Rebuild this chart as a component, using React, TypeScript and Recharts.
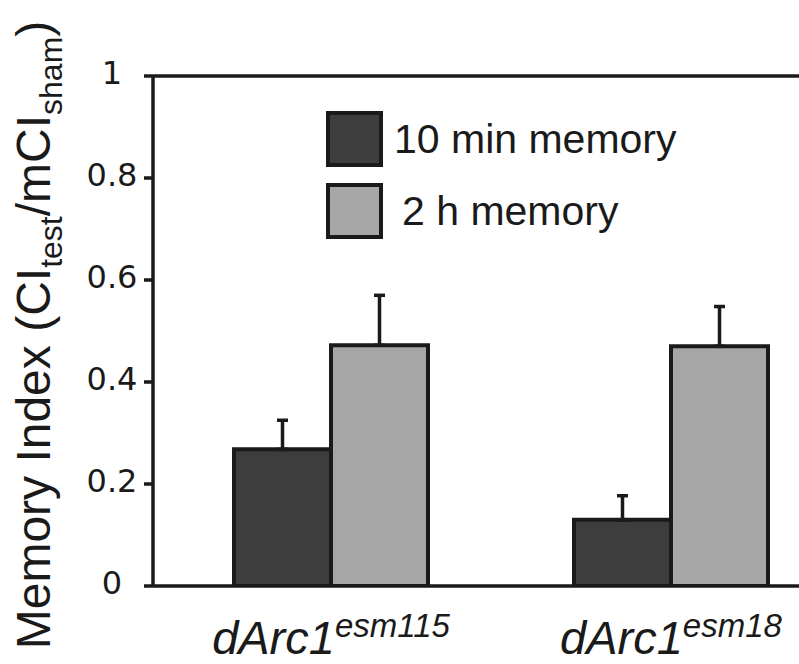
import React from 'react';
import { BarChart, Bar, XAxis, YAxis, ErrorBar, ReferenceLine, Legend, Label } from 'recharts';

const categories = ['esm115', 'esm18'];
const memory10 = [0.268, 0.13];
const memory2h = [0.472, 0.47];
const err10 = [0.057, 0.047];
const err2h = [0.098, 0.078];
const yTicks = [0, 0.2, 0.4, 0.6, 0.8, 1];
const seriesNames = ['10 min memory', '2 h memory'];

const data = categories.map((c, i) => ({
  name: c,
  m10: memory10[i],
  m2h: memory2h[i],
  e10: [0, err10[i]],
  e2h: [0, err2h[i]],
}));

const INK = '#1a1a1a';
const DARK = '#3d3d3d';
const LIGHT = '#a6a6a6';
const SANS = '"Liberation Sans", Arial, sans-serif';

const YTick = (props: any) => {
  const { x, y, payload } = props;
  return (
    <text x={x - 32} y={y + 8} textAnchor="middle" fontFamily='"DejaVu Sans", sans-serif' fontSize={32} fill={INK}>
      {String(payload.value)}
    </text>
  );
};

const XTick = (props: any) => {
  const { x, y, payload } = props;
  return (
    <text x={x} y={y + 68} textAnchor="middle" fontFamily={SANS} fill={INK}>
      <tspan fontStyle="italic" fontSize={47}>dArc1</tspan>
      <tspan fontStyle="italic" fontSize={33} dy={-17}>{payload.value}</tspan>
    </text>
  );
};

const YLabel = (props: any) => {
  const vb = props.viewBox || { x: 0, y: 0, width: 0, height: 0 };
  const cx = vb.x + 50;
  const cy = vb.y + vb.height / 2 + 4;
  return (
    <text
      x={cx}
      y={cy}
      transform={`rotate(-90 ${cx} ${cy})`}
      textAnchor="middle"
      fontFamily={SANS}
      fontSize={48}
      fill={INK}
    >
      <tspan>Memory Index (CI</tspan>
      <tspan fontSize={32} dy={12}>test</tspan>
      <tspan dy={-12}>/mCI</tspan>
      <tspan fontSize={32} dy={12}>sham</tspan>
      <tspan dy={-12}>)</tspan>
    </text>
  );
};

const LegendContent = (props: any) => {
  const payload = props.payload || [];
  return (
    <div style={{ display: 'flex', flexDirection: 'column', gap: 16 }}>
      {payload.map((p: any, i: number) => (
        <div key={i} style={{ display: 'flex', alignItems: 'center', height: 56 }}>
          <div
            style={{
              width: 57,
              height: 56,
              boxSizing: 'border-box',
              border: `4px solid ${INK}`,
              background: p.color,
            }}
          />
          <span
            style={{
              fontFamily: SANS,
              fontSize: 41,
              lineHeight: '41px',
              color: INK,
              marginLeft: i === 0 ? 11 : 19,
              whiteSpace: 'nowrap',
            }}
          >
            {p.value}
          </span>
        </div>
      ))}
    </div>
  );
};

export default function App() {
  return (
    <div style={{ position: 'absolute', left: 0, top: 0, width: 799, height: 664, overflow: 'hidden', background: '#fff' }}>
      <BarChart
        width={841}
        height={664}
        data={data}
        margin={{ top: 76, right: 0, bottom: 0, left: 0 }}
        barGap={0}
        barSize={97}
      >
        <XAxis
          dataKey="name"
          height={78}
          padding={{ left: 8, right: 0 }}
          axisLine={{ stroke: INK, strokeWidth: 3.5 }}
          tickLine={false}
          tickSize={0}
          tickMargin={0}
          tick={<XTick />}
          interval={0}
        />
        <YAxis
          width={153}
          domain={[0, 1]}
          ticks={yTicks}
          type="number"
          allowDataOverflow
          axisLine={{ stroke: INK, strokeWidth: 3.5 }}
          tickLine={{ stroke: INK, strokeWidth: 3.5 }}
          tickSize={9}
          tickMargin={0}
          tick={<YTick />}
        >
          <Label content={<YLabel />} />
        </YAxis>
        <ReferenceLine y={1} stroke={INK} strokeWidth={3.5} ifOverflow="extendDomain" />
        <Legend
          layout="vertical"
          align="center"
          verticalAlign="middle"
          content={<LegendContent />}
          wrapperStyle={{ position: 'absolute', left: 326, top: 111, width: 'auto', height: 'auto' }}
        />
        <Bar dataKey="m10" name={seriesNames[0]} fill={DARK} stroke={INK} strokeWidth={4} isAnimationActive={false}>
          <ErrorBar dataKey="e10" width={5.5} stroke={INK} strokeWidth={3.5} direction="y" isAnimationActive={false} />
        </Bar>
        <Bar dataKey="m2h" name={seriesNames[1]} fill={LIGHT} stroke={INK} strokeWidth={4} isAnimationActive={false}>
          <ErrorBar dataKey="e2h" width={5.5} stroke={INK} strokeWidth={3.5} direction="y" isAnimationActive={false} />
        </Bar>
      </BarChart>
    </div>
  );
}
